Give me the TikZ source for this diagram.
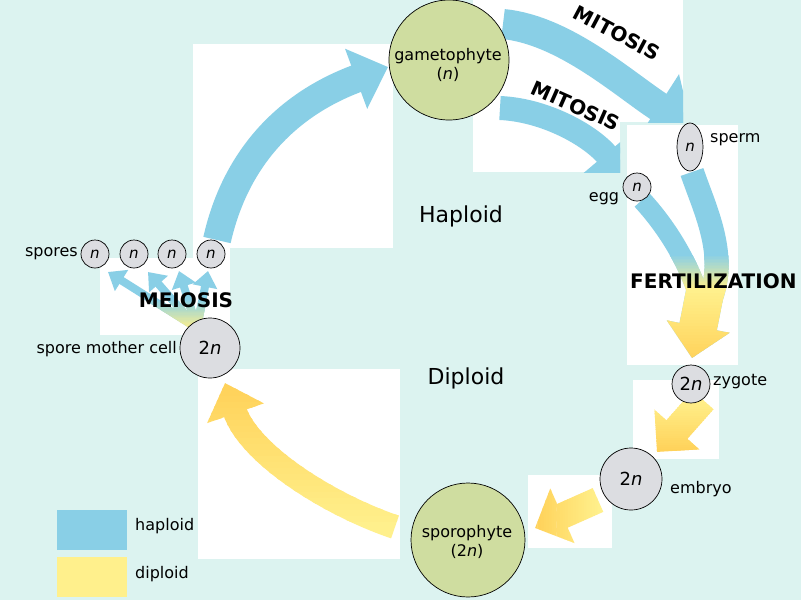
\documentclass[tikz,border=0pt]{standalone}
\usepackage{fontspec}
\setmainfont{DejaVu Sans}
\usetikzlibrary{arrows.meta,shapes.geometric}
\definecolor{bg}{RGB}{220,243,240}
\definecolor{hblue}{RGB}{137,207,230}
\definecolor{dyel}{RGB}{255,240,140}
\definecolor{oyel}{RGB}{255,210,90}
\definecolor{cgray}{RGB}{220,221,225}
\definecolor{cgreen}{RGB}{207,221,160}
\newcommand{\fs}[1]{\fontsize{#1}{#1}\selectfont}
% gradient along y: #1 from, #2 to, #3 colour at from, #4 colour at to, #5 drawing macro, #6 extension factor
\newcommand{\ygrad}[6]{%
  \foreach \k in {0,...,23}{%
    \pgfmathsetmacro{\ya}{\k==0 ? #1-(#2-#1)*#6 : #1+(#2-#1)*\k/24}%
    \pgfmathsetmacro{\yb}{\k==23 ? #2+(#2-#1)*#6 : #1+(#2-#1)*(\k+1.15)/24}%
    \pgfmathtruncatemacro{\pc}{100-100*\k/23}%
    \begin{scope}\clip (-5,\ya) rectangle (806,\yb);#5{#3!\pc!#4}\end{scope}%
  }}
\newcommand{\xgrad}[6]{%
  \foreach \k in {0,...,23}{%
    \pgfmathsetmacro{\xa}{\k==0 ? #1-(#2-#1)*#6 : #1+(#2-#1)*\k/24}%
    \pgfmathsetmacro{\xb}{\k==23 ? #2+(#2-#1)*#6 : #1+(#2-#1)*(\k+1.15)/24}%
    \pgfmathtruncatemacro{\pc}{100-100*\k/23}%
    \begin{scope}\clip (\xa,-5) rectangle (\xb,606);#5{#3!\pc!#4}\end{scope}%
  }}
\newcommand{\fertall}[1]{%
  \draw[#1, line width=20pt] (egA) .. controls (665,225) and (688,260) .. (egB);
  \draw[#1, line width=24pt] (spA) .. controls (705,210) and (728,255) .. (spB);
  \draw[#1, line width=38pt, -{Triangle[length=32pt,width=62pt]}] (fzA) -- (fzB);}
\newcommand{\meio}[1]{%
  \foreach \t in {m1,m2,m3,m4}{\draw[#1, line width=8pt, -{Triangle[length=16pt,width=24pt]}] (mS) -- (\t);}}
\newcommand{\ylarr}[1]{%
  \draw[#1, line width=24pt, -{Triangle[length=32pt,width=58pt]}] (ylA) .. controls (330,505) and (250,455) .. (ylB);}
\newcommand{\zyarr}[1]{%
  \draw[#1, line width=28pt, -{Triangle[length=30pt,width=58pt]}] (zyA) -- (zyB);}
\newcommand{\emarr}[1]{%
  \draw[#1, line width=26pt, -{Triangle[length=30pt,width=58pt]}] (emA) -- (emB);}
\tikzset{
  ncirc/.style={circle, draw=black, line width=0.7pt, fill=cgray, inner sep=0pt, minimum size=#1, font=\fs{15}},
  gcirc/.style={circle, draw=black, line width=0.7pt, fill=cgreen, inner sep=0pt, minimum size=#1},
  gtext/.style={align=center, inner sep=0pt, font=\fontsize{16}{19}\selectfont},
  lbl/.style={font=\fs{16}, inner sep=0pt},
  boldlbl/.style={font=\bfseries\fs{20}, inner sep=0pt},
  bigarrow/.style={hblue, line width=#1}
}
\begin{document}
\begin{tikzpicture}[x=1pt,y=-1pt]
\useasboundingbox (0,0) rectangle (801,600);
\fill[bg] (0,0) rectangle (801,600);
% white panels
\fill[white] (193,44) rectangle (393,248);
\fill[white] (193,240) rectangle (230,260);
\fill[white] (100,258) rectangle (230,335);
\fill[white] (473,0) rectangle (683,122);
\fill[white] (473,122) rectangle (620,172);
\fill[white] (627,125) rectangle (738,365);
\fill[white] (633,380) rectangle (719,459);
\fill[white] (528,475) rectangle (612,548);
\fill[white] (198,369) rectangle (400,559);
% coordinates
\coordinate (bigS) at (217,240); \coordinate (bigT) at (388,67);
\coordinate (mitA) at (503,24); \coordinate (mitB) at (692,128);
\coordinate (mit2A) at (500,108); \coordinate (mit2B) at (628,180);
\coordinate (egA) at (642,200); \coordinate (egB) at (700,300);
\coordinate (spA) at (692,172); \coordinate (spB) at (710,300);
\coordinate (fzA) at (707,282); \coordinate (fzB) at (692,358);
\coordinate (mS) at (197,328);
\coordinate (m1) at (108,272); \coordinate (m2) at (148,272);
\coordinate (m3) at (179,271); \coordinate (m4) at (208,271);
\coordinate (ylA) at (395,527); \coordinate (ylB) at (225,383);
\coordinate (zyA) at (703,400); \coordinate (zyB) at (657,452);
\coordinate (emA) at (598,500); \coordinate (emB) at (535,528);
% blue arrows
\draw[bigarrow=28pt, -{Triangle[length=34pt,width=62pt]}] (bigS) .. controls (235,160) and (285,105) .. (bigT);
\begin{scope}
  \clip (473,0) rectangle (683,122);
  \draw[bigarrow=30pt, -{Triangle[length=40pt,width=74pt]}] (mitA) .. controls (565,30) and (625,85) .. (mitB);
\end{scope}
\begin{scope}
  \clip (473,0) rectangle (620,172);
  \draw[bigarrow=24pt, -{Triangle[length=34pt,width=60pt]}] (mit2A) .. controls (545,110) and (590,135) .. (mit2B);
\end{scope}
% fertilization
\fertall{hblue}
\ygrad{255}{290}{hblue}{dyel}{\fertall}{0}
\ygrad{290}{362}{dyel}{oyel}{\fertall}{0}
% meiosis arrows
\meio{hblue}
\ygrad{300}{330}{hblue}{dyel}{\meio}{0}
% yellow arrows
\ygrad{527}{383}{dyel}{oyel}{\ylarr}{1}
\ygrad{398}{452}{dyel}{oyel}{\zyarr}{1}
\xgrad{600}{535}{dyel}{oyel}{\emarr}{1}
% MITOSIS labels
\node[boldlbl, rotate=-28] (mit1) at (617,33) {MITOSIS};
\node[boldlbl, rotate=-24] (mit2) at (576,106) {MITOSIS};
% big circles
\node[gcirc=120pt] (gam) at (449,60) {};
\node[gtext] (gamt) at (448,65) {gametophyte\\(\textit{n})};
\node[gcirc=114pt] (spo) at (468,540) {};
\node[gtext] (spot) at (467,542) {sporophyte\\(2\textit{n})};
% spores
\node[lbl, anchor=east] (spt) at (78,254) {spores};
\node[ncirc=28pt] (sp1) at (95,254) {\textit{n}};
\node[ncirc=28pt] (sp2) at (134,254) {\textit{n}};
\node[ncirc=28pt] (sp3) at (172,254) {\textit{n}};
\node[ncirc=28pt] (sp4) at (211,254) {\textit{n}};
\node[boldlbl] (mei) at (186,300) {MEIOSIS};
\node[lbl, anchor=east] (smct) at (177,349) {spore mother cell};
\node[ncirc=60pt, font=\fs{18}] (smc) at (210,348) {2\textit{n}};
% gametes
\node[ncirc=28pt] (egg) at (637,187) {\textit{n}};
\node[lbl] (eggt) at (604,199) {egg};
\node[ellipse, draw=black, line width=0.7pt, fill=cgray, inner sep=0pt, minimum width=26pt, minimum height=48pt, font=\fs{15}] (sperm) at (690,147) {\textit{n}};
\node[lbl, anchor=west] (spermt) at (710,140) {sperm};
\node[boldlbl, anchor=west] (fert) at (630,281) {FERTILIZATION};
\node[ncirc=38pt, font=\fs{18}] (zyg) at (691,384) {2\textit{n}};
\node[lbl, anchor=west] (zygt) at (713,382) {zygote};
\node[ncirc=62pt, font=\fs{18}] (emb) at (631,479) {2\textit{n}};
\node[lbl, anchor=west] (embt) at (670,489) {embryo};
% phase labels
\node[font=\fs{22}, inner sep=0pt] (hap) at (461,216) {Haploid};
\node[font=\fs{22}, inner sep=0pt] (dip) at (466,378) {Diploid};
% legend
\fill[hblue] (57,510) rectangle (127,550);
\fill[dyel] (57,557) rectangle (127,597);
\node[lbl, anchor=west] (lh) at (135,526) {haploid};
\node[lbl, anchor=west] (ld) at (135,574) {diploid};
\end{tikzpicture}
\end{document}
